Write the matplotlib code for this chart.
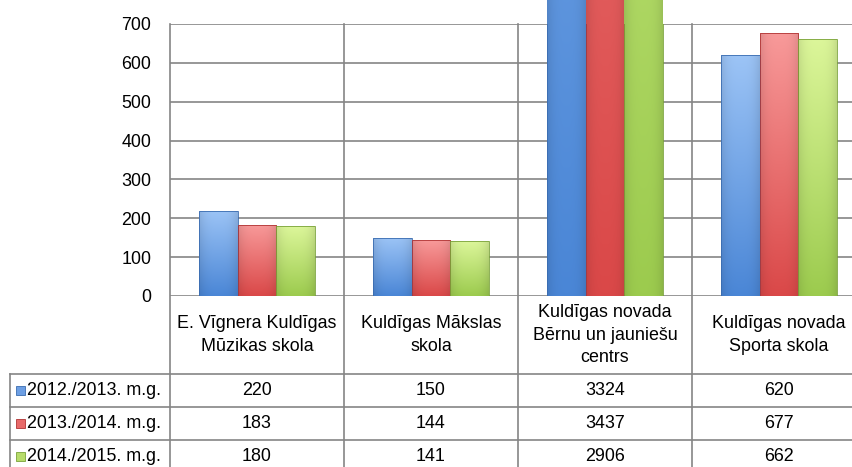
import numpy as np
import matplotlib.pyplot as plt
from matplotlib.patches import Rectangle
from matplotlib.lines import Line2D
from matplotlib.colors import to_rgb
from matplotlib.transforms import blended_transform_factory

plt.rcParams['font.family'] = ['Liberation Sans Narrow', 'Liberation Sans', 'DejaVu Sans']

# data
categories = ["E. Vīgnera Kuldīgas\nMūzikas skola",
              "Kuldīgas Mākslas\nskola",
              "Kuldīgas novada\nBērnu un jauniešu\ncentrs",
              "Kuldīgas novada\nSporta skola"]
series = ["2012./2013. m.g.", "2013./2014. m.g.", "2014./2015. m.g."]
v_2012 = [220, 150, 3324, 620]
v_2013 = [183, 144, 3437, 677]
v_2014 = [180, 141, 2906, 662]
values = [v_2012, v_2013, v_2014]
yticks = [0, 100, 200, 300, 400, 500, 600, 700]

# styling
bottom_col = ['#4a86d6', '#da4848', '#9ccb4e']
top_col = ['#9cc4f6', '#f89a9a', '#dcf69a']
mid_col = ['#6d9fe4', '#e86a6a', '#b7dc6a']
edge_col = ['#3a6cb0', '#b03434', '#7aa23a']
grid_col = '#858585'
W, H = 853, 467
FS = 12.9


def fy(y):
    # pixel row -> figure fraction
    return 1 - y / H


fig = plt.figure(figsize=(W / 100, H / 100), dpi=100)
ax = fig.add_axes([170 / W, fy(296), 696 / W, (296 - 24) / H])

x = np.arange(len(categories))
bar_w = 0.224
offsets = [-bar_w, 0, bar_w]

for j, vals in enumerate(values):
    bars = ax.bar(x + offsets[j], vals, width=bar_w, color='none',
                  edgecolor=edge_col[j], linewidth=0.6, zorder=3)
    c0 = np.array(to_rgb(bottom_col[j]))
    c1 = np.array(to_rgb(top_col[j]))
    t = np.linspace(0, 1, 200)[:, None, None]
    u = np.linspace(0, 1, 40)[None, :, None]
    side = 1 - 0.10 * np.abs(2 * u - 1) ** 3
    img = np.clip((c0 + (c1 - c0) * t) * side, 0, 1)
    for b, v in zip(bars, vals):
        im = ax.imshow(img, extent=[b.get_x(), b.get_x() + b.get_width(), 0, v],
                       origin='lower', aspect='auto', zorder=2,
                       interpolation='bilinear')
        im.set_clip_path(b)

ax.set_xlim(-0.5, len(categories) - 0.5)
ax.set_ylim(0, 700)
ax.set_yticks(yticks)
ax.set_xticks([])
ax.tick_params(axis='y', length=0, pad=13.5, labelsize=FS)
for s in ax.spines.values():
    s.set_visible(False)
ax.yaxis.grid(True, color=grid_col, linewidth=1.2)
ax.set_axisbelow(True)

bt = blended_transform_factory(ax.transData, fig.transFigure)

# vertical lines: category boundaries through plot and table
for xb in np.arange(len(categories) + 1) - 0.5:
    fig.add_artist(Line2D([xb, xb], [fy(24), fy(480)], transform=bt,
                          color=grid_col, linewidth=1.2, zorder=1))

# table horizontal lines + left border
row_lines = [374, 407, 440]
for yl in row_lines:
    fig.add_artist(Line2D([10 / W, 1.05], [fy(yl), fy(yl)], transform=fig.transFigure,
                          color=grid_col, linewidth=1.2))
fig.add_artist(Line2D([10 / W, 10 / W], [fy(374), fy(480)], transform=fig.transFigure,
                      color=grid_col, linewidth=1.2))

# category labels
for i, lab in enumerate(categories):
    fig.text(i, fy(335), lab, transform=bt, ha='center', va='center',
             multialignment='center', fontsize=FS, linespacing=1.42)

# table rows
row_centers = [390.5, 423.5, 456.5]
for r, (name, vals) in enumerate(zip(series, values)):
    yc = fy(row_centers[r])
    fig.add_artist(Rectangle((16 / W, yc - 4.5 / H), 9 / W, 9 / H,
                             transform=fig.transFigure, facecolor=mid_col[r],
                             edgecolor=edge_col[r], linewidth=0.6))
    fig.text(27 / W, yc, name, ha='left', va='center', fontsize=FS)
    for i, v in enumerate(vals):
        fig.text(i, yc, str(v), transform=bt, ha='center', va='center', fontsize=FS)

fig.savefig('out.png', dpi=100)
